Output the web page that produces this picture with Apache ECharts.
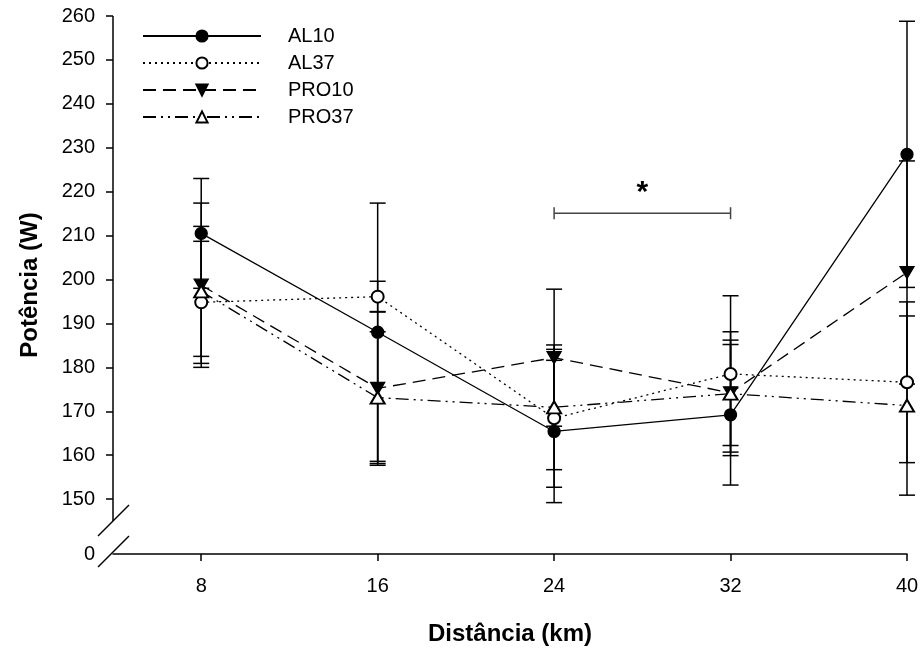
<!DOCTYPE html>
<html>
<head>
<meta charset="utf-8">
<script src="https://cdn.jsdelivr.net/npm/echarts@6/dist/echarts.min.js"></script>
<style>
html, body { margin: 0; padding: 0; background: #fff; }
#chart { width: 924px; height: 651px; }
</style>
</head>
<body>
<div id="chart"></div>
<script>
// distances (km) and tick labels
const distances = [8, 16, 24, 32, 40]
const xTicks = [8, 16, 24, 32, 40]
const yTicks = [150, 160, 170, 180, 190, 200, 210, 220, 230, 240, 250, 260]
const yZero = 137.5 // where the broken axis puts its "0"

// mean power (W) and SD per group
const al10 = [210.5, 188.0, 165.4, 169.2, 228.5]
const al10Sd = [12.5, 29.4, 16.2, 16.0, 30.3]
const al37 = [194.8, 196.1, 168.4, 178.5, 176.6]
const al37Sd = [13.9, 3.5, 15.7, 17.8, 18.3]
const pro10 = [198.7, 175.2, 182.2, 174.2, 201.6]
const pro10Sd = [18.7, 17.5, 15.6, 12.0, 25.4]
const pro37 = [197.3, 173.1, 170.9, 174.0, 171.3]
const pro37Sd = [14.8, 15.0, 14.2, 14.1, 20.4]

// significance bracket: from, to, level
const sigFrom = 24
const sigTo = 32
const sigLevel = 215.1

const font = "'Liberation Sans', Arial, Helvetica, sans-serif"

const chart = echarts.init(document.getElementById('chart'))

function lineSeries(name, values, symbol, type, extra) {
    return Object.assign({
        name: name,
        type: 'line',
        data: distances.map((d, i) => [d, values[i]]),
        symbol: symbol,
        symbolSize: 12,
        showSymbol: true,
        z: 3,
        itemStyle: {color: '#000', borderColor: '#000', borderWidth: 1.3},
        lineStyle: {color: '#000', width: 1.3, type: type},
        emphasis: {disabled: true}
    }, extra || {})
}

function errSeries(name, values, sd) {
    return {
        name: name + ' dp',
        type: 'custom',
        z: 2,
        silent: true,
        data: distances.map((d, i) => [d, values[i], sd[i]]),
        renderItem: (params, api) => {
            const x = api.value(0), m = api.value(1), s = api.value(2)
            const top = api.coord([x, m + s]), bot = api.coord([x, m - s])
            const w = 8
            const st = {stroke: '#000', lineWidth: 1.5}
            return {
                type: 'group',
                children: [
                    {type: 'line', shape: {x1: top[0], y1: top[1], x2: bot[0], y2: bot[1]}, style: st},
                    {type: 'line', shape: {x1: top[0] - w, y1: top[1], x2: top[0] + w, y2: top[1]}, style: st},
                    {type: 'line', shape: {x1: bot[0] - w, y1: bot[1], x2: bot[0] + w, y2: bot[1]}, style: st}
                ]
            }
        }
    }
}

const option = {
    animation: false,
    backgroundColor: '#fff',
    grid: {left: 113, right: 17, top: 16, bottom: 94, containLabel: false},
    legend: {
        orient: 'vertical',
        left: 137,
        top: 21,
        itemWidth: 118,
        itemHeight: 14,
        itemGap: 7,
        data: ['AL10', 'AL37', 'PRO10', 'PRO37'],
        textStyle: {fontFamily: font, fontSize: 20, color: '#000', lineHeight: 20, padding: [0, 0, 0, 22]}
    },
    xAxis: {
        type: 'value',
        min: 4,
        max: 40,
        splitLine: {show: false},
        axisLine: {lineStyle: {color: '#000', width: 1.5}},
        axisTick: {show: true, length: 7, lineStyle: {color: '#000', width: 1.5}, customValues: xTicks},
        axisLabel: {customValues: xTicks, margin: 22, color: '#000', fontFamily: font, fontSize: 20},
        name: 'Distância (km)',
        nameLocation: 'middle',
        nameGap: 68,
        nameTextStyle: {fontFamily: font, fontSize: 24, fontWeight: 'bold', color: '#000'}
    },
    yAxis: {
        type: 'value',
        min: yZero,
        max: 260,
        splitLine: {show: false},
        axisLine: {show: false},
        axisTick: {show: true, length: 7, lineStyle: {color: '#000', width: 1.5}, customValues: yTicks},
        axisLabel: {
            customValues: [yZero].concat(yTicks),
            formatter: v => (v < yTicks[0] ? '0' : String(v)),
            margin: 18, color: '#000', fontFamily: font, fontSize: 20
        },
        name: 'Potência (W)',
        nameLocation: 'middle',
        nameGap: 71,
        nameTextStyle: {fontFamily: font, fontSize: 24, fontWeight: 'bold', color: '#000'}
    },
    series: [
        errSeries('AL10', al10, al10Sd),
        errSeries('AL37', al37, al37Sd),
        errSeries('PRO10', pro10, pro10Sd),
        errSeries('PRO37', pro37, pro37Sd),
        lineSeries('AL10', al10, 'circle', 'solid'),
        lineSeries('AL37', al37, 'emptyCircle', [2, 4]),
        lineSeries('PRO10', pro10, 'triangle', [13, 7], {symbolRotate: 180, symbolSize: [14, 12]}),
        lineSeries('PRO37', pro37, 'emptyTriangle', [13, 5, 2, 5, 2, 5], {symbolSize: [14, 12]}),
        {
            name: 'sig',
            type: 'custom',
            silent: true,
            z: 4,
            data: [[sigFrom, sigTo, sigLevel]],
            renderItem: (params, api) => {
                const a = api.coord([api.value(0), api.value(2)])
                const b = api.coord([api.value(1), api.value(2)])
                const st = {stroke: '#444', lineWidth: 1.5}
                return {
                    type: 'group',
                    children: [
                        {type: 'line', shape: {x1: a[0], y1: a[1], x2: b[0], y2: b[1]}, style: st},
                        {type: 'line', shape: {x1: a[0], y1: a[1] - 6, x2: a[0], y2: a[1] + 6}, style: st},
                        {type: 'line', shape: {x1: b[0], y1: b[1] - 6, x2: b[0], y2: b[1] + 6}, style: st},
                        {type: 'text', x: (a[0] + b[0]) / 2, y: a[1] - 5, style: {
                            text: '*', fill: '#000', font: 'bold 30px ' + font, align: 'center', verticalAlign: 'bottom'
                        }}
                    ]
                }
            }
        }
    ]
}

chart.setOption(option)

// broken y axis: line from top down to the break, plus two slashes
const o = chart.convertToPixel({gridIndex: 0}, [4, yZero])
const t = chart.convertToPixel({gridIndex: 0}, [4, 260])
const brk = o[1] - 33
const slash = (dy) => ({
    type: 'line',
    shape: {x1: o[0] - 15, y1: o[1] + 13 - dy, x2: o[0] + 16, y2: o[1] - 18 - dy},
    style: {stroke: '#000', lineWidth: 1.5}
})
chart.setOption({
    graphic: [
        {type: 'line', shape: {x1: o[0], y1: t[1], x2: o[0], y2: brk}, style: {stroke: '#000', lineWidth: 1.5}},
        slash(0),
        slash(31)
    ]
})
</script>
</body>
</html>
